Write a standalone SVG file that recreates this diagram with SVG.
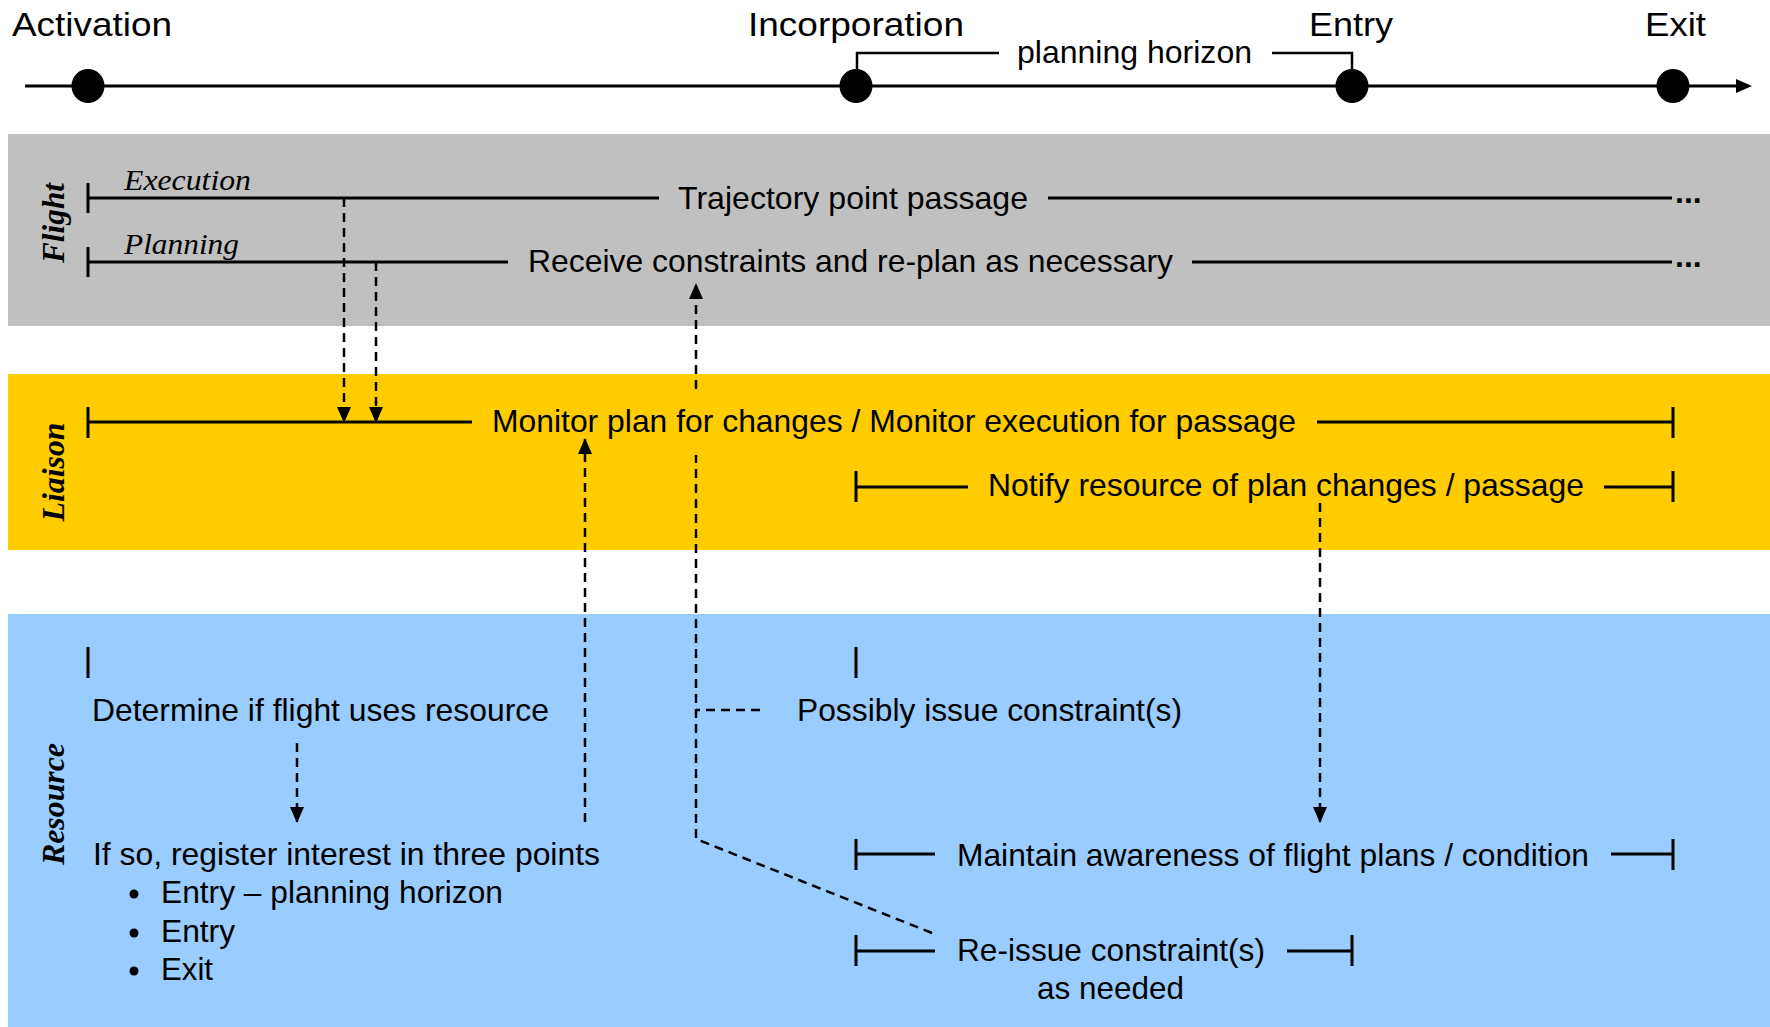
<svg xmlns="http://www.w3.org/2000/svg" width="1770" height="1027" viewBox="0 0 1770 1027">
<style>
.t{font-family:"Liberation Sans",Arial,sans-serif;font-size:32px;fill:#000}
.tl{font-family:"Liberation Sans",Arial,sans-serif;font-size:34px;fill:#000}
.it{font-family:"Liberation Serif","Times New Roman",serif;font-style:italic;font-size:29px;fill:#000}
.lane{font-family:"Liberation Serif","Times New Roman",serif;font-style:italic;font-weight:bold;font-size:31px;fill:#000}
.ln{stroke:#000;stroke-width:3;fill:none}
.br{stroke:#000;stroke-width:2.5;fill:none}
.dl{stroke:#000;stroke-width:2.5;fill:none;stroke-dasharray:9 6}
</style>
<defs>
<marker id="ah" markerUnits="userSpaceOnUse" markerWidth="16" markerHeight="14" viewBox="0 0 16 14" refX="15" refY="7" orient="auto">
<path d="M0,0 L16,7 L0,14 Z" fill="#000"/>
</marker>
</defs>
<g id="bands">
<rect x="8" y="134" width="1762" height="192" fill="#C0C0C0"/>
<rect x="8" y="374" width="1762" height="176" fill="#FFCC00"/>
<rect x="8" y="614" width="1762" height="413" fill="#99CCFF"/>
</g>
<g id="timeline">
<path class="ln" d="M25,86 H1740"/>
<polygon points="1736,79 1752,86 1736,93" fill="#000"/>
<path class="br" d="M857,70 V53 H999 M1272,53 H1352 V70"/>
<ellipse cx="88" cy="86" rx="16.5" ry="17" fill="#000"/>
<ellipse cx="856" cy="86" rx="16.5" ry="17" fill="#000"/>
<ellipse cx="1352" cy="86" rx="16.5" ry="17" fill="#000"/>
<ellipse cx="1673" cy="86" rx="16.5" ry="17" fill="#000"/>
</g>
<g id="label-activation"><text class="tl" x="12" y="36" textLength="160" lengthAdjust="spacingAndGlyphs">Activation</text></g>
<g id="label-incorporation"><text class="tl" x="748" y="36" textLength="216" lengthAdjust="spacingAndGlyphs">Incorporation</text></g>
<g id="label-entry"><text class="tl" x="1309" y="36" textLength="84" lengthAdjust="spacingAndGlyphs">Entry</text></g>
<g id="label-exit"><text class="tl" x="1645" y="36" textLength="61" lengthAdjust="spacingAndGlyphs">Exit</text></g>
<g id="label-horizon"><text class="t" x="1017" y="63" textLength="235" lengthAdjust="spacingAndGlyphs">planning horizon</text></g>

<g id="lane-flight"><text class="lane" transform="translate(64,223) rotate(-90)" text-anchor="middle" textLength="80" lengthAdjust="spacingAndGlyphs">Flight</text></g>
<g id="lane-liaison"><text class="lane" transform="translate(64,472) rotate(-90)" text-anchor="middle" textLength="99" lengthAdjust="spacingAndGlyphs">Liaison</text></g>
<g id="lane-resource"><text class="lane" transform="translate(64,804) rotate(-90)" text-anchor="middle" textLength="122" lengthAdjust="spacingAndGlyphs">Resource</text></g>

<g id="flight-execution">
<text class="it" x="124" y="190" textLength="127" lengthAdjust="spacingAndGlyphs">Execution</text>
<path class="ln" d="M88,183 V213 M88,198 H659 M1048,198 H1672"/>
<text class="t" x="678" y="209" textLength="350" lengthAdjust="spacingAndGlyphs">Trajectory point passage</text>
<text class="t" x="1675" y="203" font-weight="bold" font-size="26">...</text>
</g>
<g id="flight-planning">
<text class="it" x="124" y="254" textLength="115" lengthAdjust="spacingAndGlyphs">Planning</text>
<path class="ln" d="M88,247 V277 M88,262 H508 M1192,262 H1672"/>
<text class="t" x="528" y="272" textLength="645" lengthAdjust="spacingAndGlyphs">Receive constraints and re-plan as necessary</text>
<text class="t" x="1675" y="267" font-weight="bold" font-size="26">...</text>
</g>
<g id="liaison-monitor">
<path class="ln" d="M88,407 V438 M88,422 H472 M1317,422 H1673 M1673,407 V438"/>
<text class="t" x="492" y="432" textLength="804" lengthAdjust="spacingAndGlyphs">Monitor plan for changes / Monitor execution for passage</text>
</g>
<g id="liaison-notify">
<path class="ln" d="M856,471 V502 M856,487 H968 M1604,487 H1673 M1673,471 V502"/>
<text class="t" x="988" y="496" textLength="596" lengthAdjust="spacingAndGlyphs">Notify resource of plan changes / passage</text>
</g>
<g id="resource-determine">
<path class="ln" d="M88,647 V678"/>
<text class="t" x="92" y="721" textLength="457" lengthAdjust="spacingAndGlyphs">Determine if flight uses resource</text>
</g>
<g id="resource-register">
<text class="t" x="93" y="865" textLength="507" lengthAdjust="spacingAndGlyphs">If so, register interest in three points</text>
<circle cx="134" cy="894" r="4.5" fill="#000"/>
<circle cx="134" cy="933" r="4.5" fill="#000"/>
<circle cx="134" cy="971" r="4.5" fill="#000"/>
<text class="t" x="161" y="903" textLength="342" lengthAdjust="spacingAndGlyphs">Entry – planning horizon</text>
<text class="t" x="161" y="942" textLength="74" lengthAdjust="spacingAndGlyphs">Entry</text>
<text class="t" x="161" y="980" textLength="52" lengthAdjust="spacingAndGlyphs">Exit</text>
</g>
<g id="resource-possibly">
<path class="ln" d="M856,647 V678"/>
<text class="t" x="797" y="721" textLength="385" lengthAdjust="spacingAndGlyphs">Possibly issue constraint(s)</text>
</g>
<g id="resource-maintain">
<path class="ln" d="M856,839 V870 M856,854 H935 M1611,854 H1673 M1673,839 V870"/>
<text class="t" x="957" y="866" textLength="632" lengthAdjust="spacingAndGlyphs">Maintain awareness of flight plans / condition</text>
</g>
<g id="resource-reissue">
<path class="ln" d="M856,935 V966 M856,951 H935 M1287,951 H1352 M1352,935 V966"/>
<text class="t" x="957" y="961" textLength="308" lengthAdjust="spacingAndGlyphs">Re-issue constraint(s)</text>
<text class="t" x="1037" y="999" textLength="147" lengthAdjust="spacingAndGlyphs">as needed</text>
</g>
<g id="connectors">
<path class="dl" d="M344,198 V422" marker-end="url(#ah)"/>
<path class="dl" d="M376,262 V422" marker-end="url(#ah)"/>
<path class="dl" d="M585,822 V439" marker-end="url(#ah)"/>
<path class="dl" d="M932,933 L696,839 V455 M696,389 V284" marker-end="url(#ah)"/>
<path class="dl" d="M760,710 H696"/>
<path class="dl" d="M1320,503 V822" marker-end="url(#ah)"/>
<path class="dl" d="M297,743 V822" marker-end="url(#ah)"/>
</g>
</svg>
